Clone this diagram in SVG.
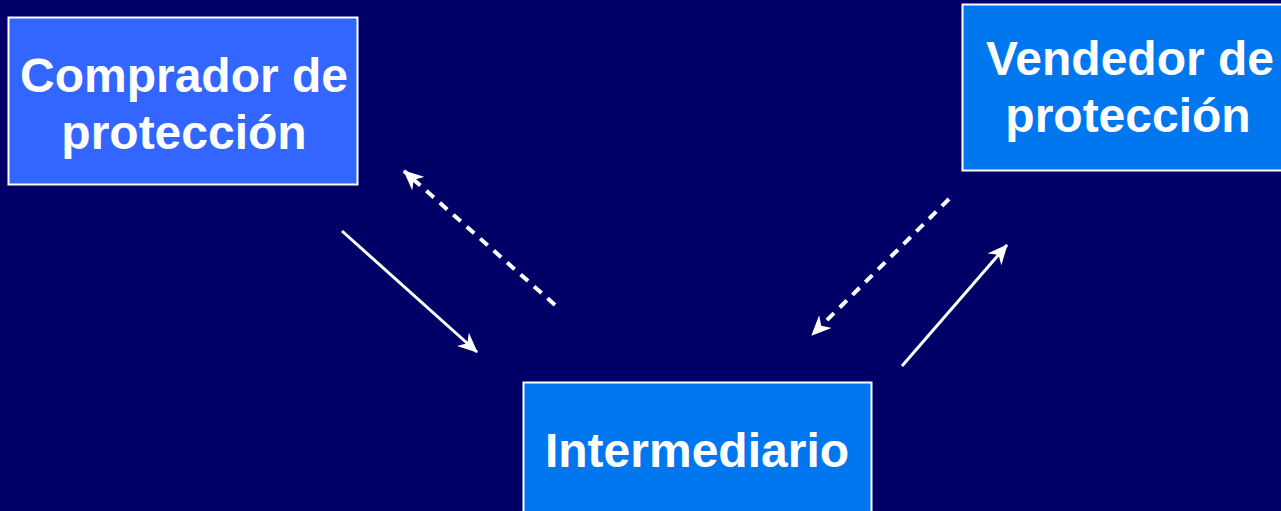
<svg xmlns="http://www.w3.org/2000/svg" width="1281" height="511" viewBox="0 0 1281 511">
<defs>
<style>
.box{stroke:#FFFFFF;stroke-width:2}
.lbl{font-family:"Liberation Sans",Arial,sans-serif;font-weight:bold;font-size:48px;fill:#FFFFFF;text-anchor:middle}
.con{stroke:#FFFFFF;stroke-width:3;fill:none;marker-end:url(#ah)}
.dash{stroke-width:4;stroke-dasharray:10 8}
</style>
<marker id="ah" markerUnits="userSpaceOnUse" markerWidth="22" markerHeight="18" refX="19" refY="9" orient="auto" viewBox="0 0 22 18">
<path d="M0,0 L20,9 L0,18 L6,9 Z" fill="#FFFFFF"/>
</marker>
</defs>
<rect width="1281" height="511" fill="#000066"/>
<g id="comprador">
<rect class="box" x="8.5" y="17.5" width="349" height="167" fill="#3366FF"/>
<text class="lbl" x="184" y="92">Comprador de</text>
<text class="lbl" x="184" y="149">protección</text>
</g>
<g id="vendedor">
<rect class="box" x="962.5" y="4.5" width="335" height="166" fill="#0077EE"/>
<text class="lbl" x="1130" y="75">Vendedor de</text>
<text class="lbl" x="1128" y="132">protección</text>
</g>
<g id="intermediario">
<rect class="box" x="523.5" y="382.5" width="348" height="140" fill="#0077EE"/>
<text class="lbl" x="697" y="467">Intermediario</text>
</g>
<g id="connectors">
<line class="con" x1="342" y1="231" x2="477" y2="352"/>
<line class="con dash" x1="555" y1="305" x2="404" y2="171"/>
<line class="con dash" x1="949" y1="199" x2="812" y2="335"/>
<line class="con" x1="902" y1="366" x2="1007" y2="245"/>
</g>
</svg>
